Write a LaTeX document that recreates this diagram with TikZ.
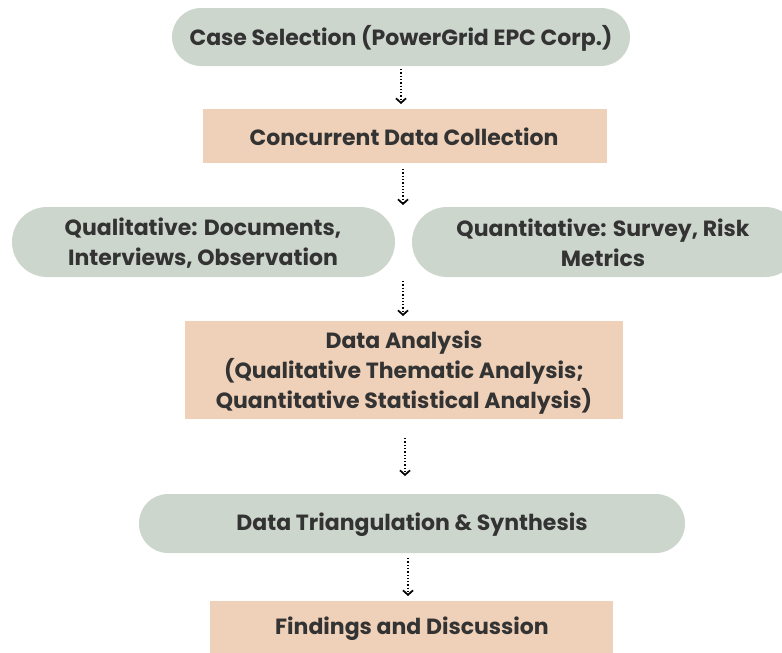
\documentclass[tikz,border=0pt]{standalone}
\usepackage{fontspec}
\setmainfont{Poppins}[UprightFont=* Bold, BoldFont=* Bold]
\usetikzlibrary{arrows.meta}
\definecolor{sage}{HTML}{CDD6CD}
\definecolor{peach}{HTML}{EFD0B8}
\definecolor{ink}{HTML}{333333}
\begin{document}
\begin{tikzpicture}[x=1pt,y=-1pt,
  txt/.style={text=ink,font=\fontsize{22}{30}\selectfont,align=center,inner sep=0pt},
  pill/.style={fill=sage,rounded corners=29pt},
  panel/.style={fill=peach},
  flow/.style={draw=black,line width=1.3pt,dotted,
    -{Straight Barb[length=4.5pt,width=10pt,line width=1.7pt]}}]
  \useasboundingbox (0,0) rectangle (782,653);
  % shapes
  \fill[pill] (172,8) rectangle (630,66);
  \fill[panel] (203,109) rectangle (607,163);
  \fill[pill,rounded corners=35pt] (12,207) rectangle (395,277);
  \fill[pill,rounded corners=35pt] (412,207) rectangle (800,277);
  \fill[panel] (185,321) rectangle (623,419);
  \fill[pill] (139,494) rectangle (685,553);
  \fill[panel] (210,601) rectangle (613,660);
  % labels
  \node[txt] (n1) at (401,38) {Case Selection (PowerGrid EPC Corp.)};
  \node[txt] (n2) at (404,137) {Concurrent Data Collection};
  \node[txt] (n3a) at (203,243) {Qualitative: Documents,\\Interviews, Observation};
  \node[txt] (n3b) at (603,243) {Quantitative: Survey, Risk\\Metrics};
  \node[txt] (n4) at (404,373) {Data Analysis\\(Qualitative Thematic Analysis;\\Quantitative Statistical Analysis)};
  \node[txt] (n5) at (412,525) {Data Triangulation \& Synthesis};
  \node[txt] (n6) at (412,629) {Findings and Discussion};
  % connectors
  \coordinate (a1s) at (401,69);  \coordinate (a1e) at (401,104);
  \coordinate (a2s) at (403,169); \coordinate (a2e) at (403,205);
  \coordinate (a3s) at (403,281); \coordinate (a3e) at (403,316);
  \coordinate (a4s) at (405,438); \coordinate (a4e) at (405,476);
  \coordinate (a5s) at (408,558); \coordinate (a5e) at (408,596);
  \draw[flow] (a1s) -- (a1e);
  \draw[flow] (a2s) -- (a2e);
  \draw[flow] (a3s) -- (a3e);
  \draw[flow] (a4s) -- (a4e);
  \draw[flow] (a5s) -- (a5e);
\end{tikzpicture}
\end{document}
